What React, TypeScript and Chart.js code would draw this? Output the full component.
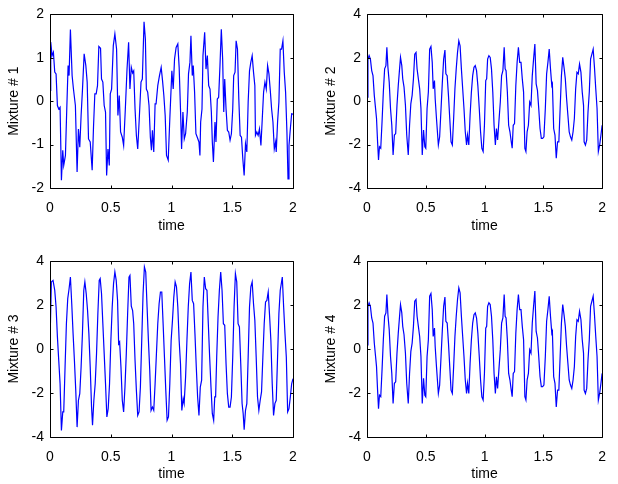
import React, { useEffect, useRef } from 'react';
import { Chart, registerables } from 'chart.js';

Chart.register(...registerables);

// ---- axis ticks ----
const timeTicks = [0, 0.5, 1, 1.5, 2];
const mixture1Ticks = [-2, -1, 0, 1, 2];
const mixtureTicks = [-4, -2, 0, 2, 4];

// ---- Mixture # 1 ----
const mixture1Time = [0, 0.006, 0.017, 0.028, 0.039, 0.05, 0.061, 0.072, 0.083, 0.094, 0.105, 0.113, 0.127, 0.138, 0.149, 0.157, 0.168, 0.182, 0.193, 0.209, 0.223, 0.234, 0.245, 0.256, 0.267, 0.281, 0.295, 0.306, 0.317, 0.331, 0.347, 0.358, 0.369, 0.38, 0.391, 0.402, 0.416, 0.424, 0.435, 0.446, 0.457, 0.466, 0.477, 0.488, 0.496, 0.507, 0.521, 0.534, 0.548, 0.559, 0.57, 0.581, 0.595, 0.606, 0.62, 0.634, 0.647, 0.658, 0.669, 0.68, 0.689, 0.7, 0.711, 0.722, 0.736, 0.749, 0.76, 0.774, 0.785, 0.793, 0.804, 0.815, 0.826, 0.835, 0.843, 0.854, 0.865, 0.873, 0.887, 0.901, 0.915, 0.926, 0.937, 0.948, 0.959, 0.973, 0.986, 1.003, 1.014, 1.025, 1.038, 1.052, 1.063, 1.074, 1.083, 1.094, 1.105, 1.116, 1.13, 1.14, 1.152, 1.16, 1.171, 1.179, 1.19, 1.201, 1.212, 1.226, 1.234, 1.24, 1.251, 1.259, 1.273, 1.284, 1.295, 1.306, 1.317, 1.328, 1.336, 1.345, 1.358, 1.366, 1.377, 1.388, 1.399, 1.41, 1.421, 1.43, 1.438, 1.449, 1.46, 1.471, 1.482, 1.493, 1.504, 1.512, 1.523, 1.532, 1.543, 1.554, 1.565, 1.576, 1.587, 1.598, 1.609, 1.62, 1.631, 1.642, 1.653, 1.664, 1.675, 1.686, 1.691, 1.702, 1.713, 1.724, 1.736, 1.747, 1.758, 1.769, 1.78, 1.791, 1.802, 1.813, 1.824, 1.835, 1.846, 1.857, 1.862, 1.873, 1.884, 1.895, 1.906, 1.917, 1.928, 1.939, 1.95, 1.959, 1.967, 1.978, 1.989, 2];
const mixture1Value = [0.25, 1.36, 1.05, 1.13, 0.67, 0.63, -0.1, -0.18, -0.14, -1.82, -1.13, -1.48, -1.25, -0.18, 0.82, 0.59, 1.65, 0.59, 0.28, -0.1, -1.63, -0.64, -1.06, -0.33, 0.25, 1.09, 0.82, 0.44, -0.87, -0.94, -1.59, -0.6, 0.17, 0.17, 0.36, 1.26, 1.22, 0.51, 0.44, -0.1, -0.25, -1.71, -1.1, -1.48, 0.17, 0.28, 1.28, 1.55, 1.2, -0.33, 0.13, -0.71, -0.83, -1.02, -0.18, 0.74, 1.36, 0.28, 0.78, 0.65, 0.7, -0.18, -0.79, -1.1, -0.33, 0.44, 0.51, 1.83, 1.43, 0.28, 0.21, -0.1, -0.83, -1.13, -0.67, -1.17, -0.06, -0.06, 0.36, 0.59, 0.78, 0.48, 0.13, -0.33, -1.25, -1.36, -0.41, 0.7, 0.28, 0.97, 1.24, 1.32, 0.78, -0.18, -1.1, -0.25, -0.87, -0.75, -0.25, 0.63, 0.9, 1.51, 0.59, 0.82, 0.21, -0.75, -0.83, -0.94, -1.25, -0.48, -0.18, 1.05, 1.59, 0.74, 1.05, 0.36, 0.28, -0.25, -0.94, -1.4, -0.48, -0.94, 0.05, 0.09, 0.82, 1.66, 0.97, -0.25, 0.51, -0.18, -0.67, -0.71, -0.9, -0.75, -0.18, 0.59, 0.67, 1.39, 1.2, 0.05, -0.79, -0.83, -1.33, -1.71, -0.98, -1.17, -0.02, 0.7, 0.9, 1.05, 0.67, 0.36, -0.79, -0.71, -0.79, -0.64, -1.02, -0.41, 0.21, 0.44, 0.28, 0.82, 0.63, 0.25, -0.18, -0.48, -1.1, -0.94, -1.17, -0.48, -0.02, 1.2, 1.2, 1.39, 0.67, 0.21, -0.71, -1.79, -1.02, -0.64, -0.29, -0.3];

// ---- Mixture # 2 ----
const mixture2Time = [0, 0.008, 0.018, 0.029, 0.04, 0.051, 0.062, 0.073, 0.081, 0.09, 0.098, 0.106, 0.117, 0.128, 0.139, 0.15, 0.161, 0.169, 0.178, 0.189, 0.2, 0.211, 0.222, 0.233, 0.244, 0.255, 0.266, 0.277, 0.285, 0.296, 0.304, 0.315, 0.327, 0.338, 0.351, 0.362, 0.373, 0.384, 0.395, 0.406, 0.417, 0.426, 0.437, 0.448, 0.459, 0.47, 0.481, 0.492, 0.5, 0.511, 0.522, 0.533, 0.544, 0.555, 0.563, 0.574, 0.58, 0.591, 0.607, 0.618, 0.63, 0.641, 0.652, 0.663, 0.671, 0.682, 0.693, 0.704, 0.715, 0.726, 0.737, 0.748, 0.759, 0.77, 0.781, 0.792, 0.803, 0.814, 0.825, 0.836, 0.847, 0.855, 0.866, 0.877, 0.888, 0.899, 0.91, 0.921, 0.932, 0.943, 0.955, 0.966, 0.977, 0.988, 0.999, 1.01, 1.018, 1.026, 1.037, 1.048, 1.059, 1.07, 1.081, 1.092, 1.101, 1.111, 1.122, 1.134, 1.145, 1.156, 1.167, 1.175, 1.183, 1.194, 1.205, 1.216, 1.227, 1.235, 1.244, 1.255, 1.266, 1.277, 1.288, 1.299, 1.31, 1.321, 1.332, 1.343, 1.352, 1.362, 1.373, 1.384, 1.395, 1.406, 1.417, 1.428, 1.439, 1.45, 1.461, 1.472, 1.483, 1.494, 1.505, 1.517, 1.528, 1.539, 1.55, 1.561, 1.572, 1.577, 1.588, 1.599, 1.61, 1.621, 1.632, 1.643, 1.654, 1.665, 1.676, 1.687, 1.698, 1.709, 1.72, 1.731, 1.742, 1.753, 1.764, 1.775, 1.786, 1.797, 1.808, 1.82, 1.831, 1.842, 1.847, 1.858, 1.869, 1.88, 1.891, 1.902, 1.913, 1.924, 1.935, 1.946, 1.957, 1.968, 1.979, 1.99, 2];
const mixture2Value = [0.19, 1.94, 2.1, 1.94, 1.41, 1.18, 0.27, -0.34, -0.8, -1.87, -2.71, -2.1, -2.17, -0.95, 0.42, 1.49, 1.64, 2.48, 1.56, 0.88, -0.34, -1.11, -2.48, -1.56, -1.49, -0.19, 0.72, 1.49, 2.02, 1.64, 1.03, 0.65, -0.19, -1.56, -2.48, -1.11, -0.11, 0.27, 1.03, 2.17, 2.25, 1.49, 1.03, 0.57, -0.34, -2.48, -1.33, -2.1, -2.17, -0.34, 0.42, 2.4, 2.52, 1.79, 0.57, 0.95, 0.11, -0.8, -2.02, -1.64, -0.34, 0.88, 1.94, 2.36, 1.26, 1.18, 0.27, -0.8, -1.87, -2.02, -0.8, 0.57, 1.49, 2.25, 2.78, 2.55, 1.49, 0.57, -0.34, -1.41, -2.02, -1.56, -2.02, -0.65, 0.42, 1.18, 1.56, 1.64, 1.41, 0.72, -0.34, -1.41, -2.17, -2.32, -1.11, 0.95, 1.03, 1.94, 2.1, 2.02, 1.49, 0.42, -1.11, -2.02, -1.26, -1.79, -0.95, -0.04, 1.18, 1.41, 2.48, 1.49, 1.41, 0.42, -1.11, -1.41, -1.87, -2.17, -1.11, -1.03, 0.72, 1.79, 2.48, 1.79, 1.79, 1.03, 0.42, -2.17, -2.32, -1.41, -1.11, -0.04, -0.19, 1.18, 1.94, 2.63, 0.8, 0.5, -0.34, -1.26, -1.71, -1.71, -1.64, -0.34, 1.26, 1.79, 2.4, 1.49, 0.72, 0.8, -1.26, -1.56, -2.63, -1.87, -1.87, -0.34, 1.18, 2.02, 1.56, 1.03, 0.11, -0.65, -1.41, -1.64, -1.79, -1.41, -0.8, 0.57, 1.33, 1.26, 1.71, 1.33, 0.42, -0.19, -1.87, -2.02, -1.79, -0.5, 0.42, 1.94, 2.17, 2.4, 1.56, 0.57, -0.34, -2.32, -2.02, -1.56, -1.11];

// ---- Mixture # 3 ----
const mixture3Time = [0, 0.011, 0.025, 0.039, 0.05, 0.061, 0.072, 0.083, 0.094, 0.105, 0.113, 0.124, 0.135, 0.146, 0.157, 0.168, 0.179, 0.19, 0.201, 0.212, 0.223, 0.234, 0.245, 0.256, 0.267, 0.278, 0.287, 0.298, 0.309, 0.32, 0.331, 0.342, 0.35, 0.361, 0.372, 0.383, 0.394, 0.405, 0.413, 0.424, 0.435, 0.446, 0.457, 0.468, 0.479, 0.49, 0.501, 0.512, 0.523, 0.534, 0.545, 0.556, 0.565, 0.573, 0.584, 0.595, 0.606, 0.617, 0.628, 0.639, 0.65, 0.658, 0.669, 0.68, 0.689, 0.7, 0.711, 0.722, 0.733, 0.744, 0.755, 0.766, 0.777, 0.788, 0.799, 0.81, 0.821, 0.832, 0.843, 0.854, 0.865, 0.876, 0.887, 0.898, 0.909, 0.92, 0.931, 0.942, 0.953, 0.964, 0.975, 0.986, 0.997, 1.008, 1.019, 1.03, 1.041, 1.052, 1.063, 1.074, 1.085, 1.096, 1.104, 1.116, 1.127, 1.138, 1.149, 1.16, 1.171, 1.182, 1.193, 1.204, 1.215, 1.226, 1.237, 1.248, 1.259, 1.27, 1.281, 1.292, 1.303, 1.314, 1.325, 1.336, 1.347, 1.356, 1.363, 1.372, 1.383, 1.394, 1.405, 1.416, 1.427, 1.438, 1.449, 1.46, 1.471, 1.482, 1.493, 1.504, 1.515, 1.526, 1.537, 1.548, 1.559, 1.57, 1.581, 1.59, 1.598, 1.609, 1.62, 1.631, 1.642, 1.653, 1.664, 1.675, 1.686, 1.697, 1.708, 1.719, 1.73, 1.741, 1.752, 1.763, 1.774, 1.785, 1.796, 1.807, 1.818, 1.829, 1.84, 1.851, 1.862, 1.873, 1.884, 1.895, 1.906, 1.912, 1.923, 1.934, 1.945, 1.956, 1.967, 1.978, 1.989, 2];
const mixture3Value = [0.24, 3.05, 3.12, 2.67, 1.91, 0.55, -0.52, -1.58, -3.7, -2.86, -2.86, -0.82, 1.15, 2.29, 2.74, 3.27, 2.06, 0.7, -0.52, -1.88, -3.55, -2.33, -2.03, -0.82, 0.7, 2.67, 3.05, 2.52, 1.76, 0.7, -0.82, -2.64, -3.47, -2.33, -1.58, -0.21, 1.61, 3.12, 3.2, 2.52, 1.15, -0.21, -1.58, -3.09, -2.71, -1.58, 0.39, 1.91, 2.97, 3.5, 3.12, 2.21, 0.24, 0.32, -0.82, -2.33, -2.86, -1.73, -0.21, 1.61, 3.27, 3.35, 1.95, 1.75, 1.15, -0.52, -1.88, -3.02, -2.86, -1.73, 0.39, 2.52, 3.73, 3.5, 1.91, 0.39, -0.97, -2.79, -2.64, -2.79, -1.58, -0.21, 1.15, 2.06, 2.59, 2.59, 1.15, -0.36, -1.88, -3.24, -3.09, -1.58, 0.39, 1.3, 2.36, 3.05, 2.82, 1.91, 0.39, -0.67, -2.79, -2.26, -2.48, -1.27, 0.39, 1.91, 2.97, 3.5, 2.21, 2.06, 0.7, -0.82, -2.18, -3.02, -1.73, -1.42, 1.91, 3.27, 2.74, 2.67, 1.15, -0.36, -1.73, -2.94, -3.24, -2.18, -2.18, -0.36, 1.45, 2.67, 3.5, 2.67, 1.15, 1.08, -0.67, -2.03, -2.64, -2.64, -2.18, -0.36, 1.91, 3.42, 3.05, 1.15, 1.0, -0.67, -2.48, -2.94, -3.67, -2.79, -2.48, -0.36, 1.91, 2.82, 3.05, 2.06, 1.3, -0.36, -2.18, -2.79, -2.33, -1.95, -0.36, 1.15, 2.14, 2.21, 2.59, 1.53, 0.39, -1.58, -3.02, -2.48, -2.33, -0.36, 1.61, 2.67, 3.05, 3.27, 1.91, 0.7, -0.36, -2.86, -2.71, -2.18, -1.58, -1.35];

// ---- Mixture # 4 ----
const mixture4Time = [0, 0.008, 0.018, 0.029, 0.04, 0.051, 0.062, 0.073, 0.081, 0.09, 0.098, 0.106, 0.117, 0.128, 0.139, 0.15, 0.161, 0.169, 0.178, 0.189, 0.2, 0.211, 0.222, 0.233, 0.244, 0.255, 0.266, 0.277, 0.285, 0.296, 0.304, 0.315, 0.327, 0.338, 0.351, 0.362, 0.373, 0.384, 0.395, 0.406, 0.417, 0.426, 0.437, 0.448, 0.459, 0.47, 0.481, 0.492, 0.5, 0.511, 0.522, 0.533, 0.544, 0.555, 0.563, 0.574, 0.58, 0.591, 0.607, 0.618, 0.63, 0.641, 0.652, 0.663, 0.671, 0.682, 0.693, 0.704, 0.715, 0.726, 0.737, 0.748, 0.759, 0.77, 0.781, 0.792, 0.803, 0.814, 0.825, 0.836, 0.847, 0.855, 0.866, 0.877, 0.888, 0.899, 0.91, 0.921, 0.932, 0.943, 0.955, 0.966, 0.977, 0.988, 0.999, 1.01, 1.018, 1.026, 1.037, 1.048, 1.059, 1.07, 1.081, 1.092, 1.101, 1.111, 1.122, 1.134, 1.145, 1.156, 1.167, 1.175, 1.183, 1.194, 1.205, 1.216, 1.227, 1.235, 1.244, 1.255, 1.266, 1.277, 1.288, 1.299, 1.31, 1.321, 1.332, 1.343, 1.352, 1.362, 1.373, 1.384, 1.395, 1.406, 1.417, 1.428, 1.439, 1.45, 1.461, 1.472, 1.483, 1.494, 1.505, 1.517, 1.528, 1.539, 1.55, 1.561, 1.572, 1.577, 1.588, 1.599, 1.61, 1.621, 1.632, 1.643, 1.654, 1.665, 1.676, 1.687, 1.698, 1.709, 1.72, 1.731, 1.742, 1.753, 1.764, 1.775, 1.786, 1.797, 1.808, 1.82, 1.831, 1.842, 1.847, 1.858, 1.869, 1.88, 1.891, 1.902, 1.913, 1.924, 1.935, 1.946, 1.957, 1.968, 1.979, 1.99, 2];
const mixture4Value = [0.19, 1.94, 2.1, 1.94, 1.41, 1.18, 0.27, -0.34, -0.8, -1.87, -2.71, -2.1, -2.17, -0.95, 0.42, 1.49, 1.64, 2.48, 1.56, 0.88, -0.34, -1.11, -2.48, -1.56, -1.49, -0.19, 0.72, 1.49, 2.02, 1.64, 1.03, 0.65, -0.19, -1.56, -2.48, -1.11, -0.11, 0.27, 1.03, 2.17, 2.25, 1.49, 1.03, 0.57, -0.34, -2.48, -1.33, -2.1, -2.17, -0.34, 0.42, 2.4, 2.52, 1.79, 0.57, 0.95, 0.11, -0.8, -2.02, -1.64, -0.34, 0.88, 1.94, 2.36, 1.26, 1.18, 0.27, -0.8, -1.87, -2.02, -0.8, 0.57, 1.49, 2.25, 2.78, 2.55, 1.49, 0.57, -0.34, -1.41, -2.02, -1.56, -2.02, -0.65, 0.42, 1.18, 1.56, 1.64, 1.41, 0.72, -0.34, -1.41, -2.17, -2.32, -1.11, 0.95, 1.03, 1.94, 2.1, 2.02, 1.49, 0.42, -1.11, -2.02, -1.26, -1.79, -0.95, -0.04, 1.18, 1.41, 2.48, 1.49, 1.41, 0.42, -1.11, -1.41, -1.87, -2.17, -1.11, -1.03, 0.72, 1.79, 2.48, 1.79, 1.79, 1.03, 0.42, -2.17, -2.32, -1.41, -1.11, -0.04, -0.19, 1.18, 1.94, 2.63, 0.8, 0.5, -0.34, -1.26, -1.71, -1.71, -1.64, -0.34, 1.26, 1.79, 2.4, 1.49, 0.72, 0.8, -1.26, -1.56, -2.63, -1.87, -1.87, -0.34, 1.18, 2.02, 1.56, 1.03, 0.11, -0.65, -1.41, -1.64, -1.79, -1.41, -0.8, 0.57, 1.33, 1.26, 1.71, 1.33, 0.42, -0.19, -1.87, -2.02, -1.79, -0.5, 0.42, 1.94, 2.17, 2.4, 1.56, 0.57, -0.34, -2.32, -2.02, -1.56, -1.11];

const FONT_FAMILY = '"Liberation Sans", Arial, Helvetica, sans-serif';
const FONT_SIZE = 14;

const framePlugin = {
  id: 'matlabFrame',
  afterDatasetsDraw(chart: any) {
    const { ctx, chartArea: a, scales } = chart;
    const L = 3;
    const left = Math.round(a.left) + 0.5;
    const right = Math.round(a.right) + 0.5;
    const top = Math.round(a.top) + 0.5;
    const bottom = Math.round(a.bottom) + 0.5;
    ctx.save();
    ctx.strokeStyle = '#000';
    ctx.lineWidth = 1;
    ctx.beginPath();
    ctx.rect(left, top, right - left, bottom - top);
    scales.x.ticks.forEach((t: any) => {
      const px = Math.round(scales.x.getPixelForValue(t.value)) + 0.5;
      ctx.moveTo(px, bottom);
      ctx.lineTo(px, bottom - L);
      ctx.moveTo(px, top);
      ctx.lineTo(px, top + L);
    });
    scales.y.ticks.forEach((t: any) => {
      const py = Math.round(scales.y.getPixelForValue(t.value)) + 0.5;
      ctx.moveTo(left, py);
      ctx.lineTo(left + L, py);
      ctx.moveTo(right, py);
      ctx.lineTo(right - L, py);
    });
    ctx.stroke();
    ctx.restore();
  },
};

type PanelProps = {
  time: number[];
  value: number[];
  yTicks: number[];
  label: string;
  left: number;
  top: number;
  width: number;
  height: number;
  padTop: number;
  padLeft: number;
  padRight: number;
  xAxisHeight: number;
  titlePadBottom: number;
};

function Panel(p: PanelProps) {
  const ref = useRef<HTMLCanvasElement | null>(null);
  useEffect(() => {
    if (!ref.current) return;
    const font = { family: FONT_FAMILY, size: FONT_SIZE };
    const chart = new Chart(ref.current, {
      type: 'line',
      data: {
        datasets: [
          {
            data: p.time.map((t, i) => ({ x: t, y: p.value[i] })),
            borderColor: '#0000ff',
            borderWidth: 1.2,
            pointRadius: 0,
            tension: 0,
            fill: false,
          },
        ],
      },
      options: {
        animation: false,
        responsive: false,
        devicePixelRatio: 1,
        layout: { padding: { top: p.padTop, left: p.padLeft, right: p.padRight, bottom: 0 } },
        plugins: { legend: { display: false }, tooltip: { enabled: false } },
        scales: {
          x: {
            type: 'linear',
            min: 0,
            max: 2,
            afterBuildTicks: (s: any) => {
              s.ticks = timeTicks.map((v) => ({ value: v }));
            },
            afterFit: (s: any) => {
              s.height = p.xAxisHeight;
            },
            grid: { display: false, drawTicks: false },
            border: { display: false },
            ticks: {
              color: '#000',
              font,
              padding: 12,
              maxRotation: 0,
              autoSkip: false,
              callback: (v: any) => String(v),
            },
            title: { display: true, text: 'time', color: '#000', font, padding: { top: 0, bottom: p.titlePadBottom } },
          },
          y: {
            type: 'linear',
            min: p.yTicks[0],
            max: p.yTicks[p.yTicks.length - 1],
            afterBuildTicks: (s: any) => {
              s.ticks = p.yTicks.map((v) => ({ value: v }));
            },
            afterFit: (s: any) => {
              s.width = 50;
            },
            grid: { display: false, drawTicks: false },
            border: { display: false },
            ticks: { color: '#000', font, padding: 6, autoSkip: false, callback: (v: any) => String(v) },
            title: { display: true, text: p.label, color: '#000', font, padding: { top: 6, bottom: 0 } },
          },
        },
      },
      plugins: [framePlugin],
    } as any);
    return () => chart.destroy();
  }, []);
  return (
    <canvas
      ref={ref}
      width={p.width}
      height={p.height}
      style={{ position: 'absolute', left: p.left, top: p.top, width: p.width, height: p.height }}
    />
  );
}

export default function App() {
  return (
    <div style={{ position: 'absolute', left: 0, top: 0, width: 618, height: 484, background: '#fff', overflow: 'hidden' }}>
      <Panel time={mixture1Time} value={mixture1Value} yTicks={mixture1Ticks} label="Mixture # 1"
        left={0} top={0} width={309} height={242} padTop={13} padLeft={0} padRight={16} xAxisHeight={54} titlePadBottom={7} />
      <Panel time={mixture2Time} value={mixture2Value} yTicks={mixtureTicks} label="Mixture # 2"
        left={309} top={0} width={309} height={242} padTop={13} padLeft={8} padRight={9} xAxisHeight={54} titlePadBottom={7} />
      <Panel time={mixture3Time} value={mixture3Value} yTicks={mixtureTicks} label="Mixture # 3"
        left={0} top={242} width={309} height={242} padTop={19} padLeft={0} padRight={16} xAxisHeight={47} titlePadBottom={1} />
      <Panel time={mixture4Time} value={mixture4Value} yTicks={mixtureTicks} label="Mixture # 4"
        left={309} top={242} width={309} height={242} padTop={19} padLeft={8} padRight={9} xAxisHeight={47} titlePadBottom={1} />
    </div>
  );
}
